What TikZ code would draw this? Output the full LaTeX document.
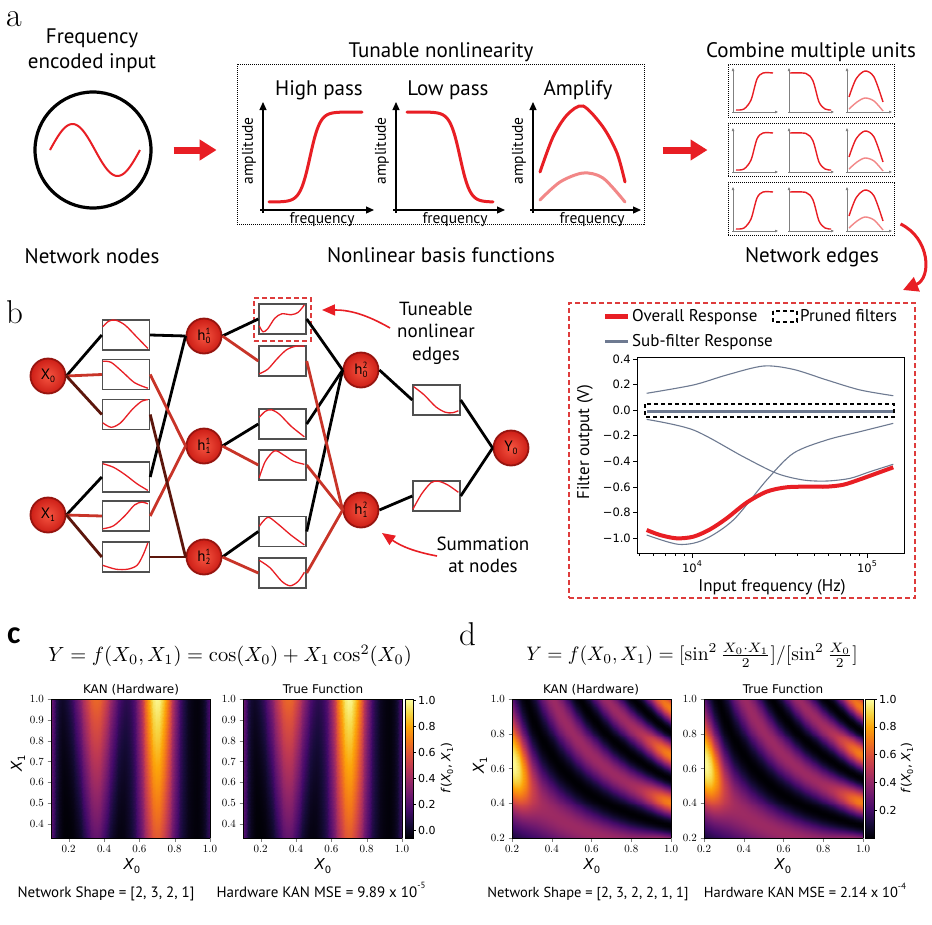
\documentclass[tikz,border=0pt]{standalone}
\usepackage{fontspec}
\usepackage{graphicx}
\usepackage{pgfplots}
\pgfplotsset{compat=1.18}
\usetikzlibrary{arrows.meta,calc}
\newfontfamily\pts{PT Sans}
\newfontfamily\djv{DejaVu Sans}
\newfontfamily\carl{Carlito}
\newcommand\fsz[2]{\fontsize{#1}{#2}\selectfont}
\definecolor{kred}{RGB}{232,30,36}
\definecolor{lred}{RGB}{242,135,135}
\definecolor{ered}{RGB}{200,52,40}
\definecolor{ebrown}{RGB}{92,22,12}
\definecolor{sgray}{RGB}{110,122,145}
\definecolor{bxgray}{RGB}{80,80,80}
\definecolor{dred}{RGB}{222,60,60}
\pgfplotsset{colormap={inferno}{rgb255=(0,0,4) rgb255=(22,11,57) rgb255=(66,10,104) rgb255=(106,23,110) rgb255=(147,38,103) rgb255=(188,55,84) rgb255=(221,81,58) rgb255=(243,120,25) rgb255=(252,165,10) rgb255=(246,215,70) rgb255=(252,255,164)}}
\pgfplotsset{hm/.style={anchor=south west, scale only axis, width=159pt, height=139pt, view={0}{90}, enlargelimits=false, axis on top, tick align=outside, xtick pos=left, ytick pos=left, major tick length=3.5pt, colormap name=inferno, tick label style={font=\djv\fsz{11}{11}}, axis line style={line width=0.7pt}, /pgf/number format/fixed, /pgf/number format/fixed zerofill, /pgf/number format/precision=1}}
\pgfdeclareverticalshading{infsh}{100bp}{rgb(0bp)=(0,0,0.016); rgb(25bp)=(0,0,0.016); rgb(30bp)=(0.086,0.043,0.224); rgb(35bp)=(0.259,0.039,0.408); rgb(40bp)=(0.416,0.090,0.431); rgb(45bp)=(0.576,0.149,0.404); rgb(50bp)=(0.737,0.216,0.329); rgb(55bp)=(0.867,0.318,0.227); rgb(60bp)=(0.953,0.471,0.098); rgb(65bp)=(0.988,0.647,0.039); rgb(70bp)=(0.965,0.843,0.275); rgb(75bp)=(0.988,1,0.643); rgb(100bp)=(0.988,1,0.643)}
\newcommand\Xl[1]{X\raisebox{-0.35ex}{\fsz{9}{9}#1}}
\newcommand\hl[2]{h\rlap{\raisebox{0.8ex}{\fsz{9}{9}#1}}\raisebox{-0.45ex}{\fsz{9}{9}#2}}
\newcommand\XX[1]{{\itshape X}\raisebox{-0.4ex}{\fsz{10}{10}#1}}
\newcommand\flab{{\djv\fsz{12.5}{12.5}\textit{f}(\textit{X}\raisebox{-0.4ex}{\fsz{8}{8}0}, \textit{X}\raisebox{-0.4ex}{\fsz{8}{8}1})}}
\newcommand\ebx[4]{%
  \node[ebox] (#1) at (#2,#3) {};
  \begin{scope}[shift={(#1.north west)}, x=47pt, y=-30pt]
    \clip (0,0) rectangle (1,1);
    \draw[ecurve] plot[smooth] coordinates {#4};
  \end{scope}}
\newcommand\minis[1]{%
  \foreach \mx in {733,789,847} {
    \draw[minax] (\mx,#1+49) -- (\mx,#1+4);
    \draw[minax] (\mx-1,#1+48) -- (\mx+45,#1+48);}
  \draw[mcurve] plot[smooth] coordinates {(736,#1+46) (744,#1+45) (751,#1+36) (757,#1+15) (763,#1+9) (773,#1+9)};
  \draw[mcurve] plot[smooth] coordinates {(790,#1+9) (806,#1+9.5) (813,#1+17) (819,#1+38) (825,#1+45) (831,#1+46)};
  \draw[mcurve] plot[smooth] coordinates {(849,#1+33) (856,#1+15) (865,#1+7) (874,#1+13) (883,#1+38)};
  \draw[mcurve, lred] plot[smooth] coordinates {(849,#1+45) (857,#1+38) (865,#1+34) (874,#1+37) (883,#1+47)};}
\begin{document}
\begin{tikzpicture}[x=1pt,y=-1pt,
  txt/.style={font=\pts\fsz{21}{21}, inner sep=0pt, anchor=base},
  small/.style={font=\pts\fsz{15.5}{15.5}, inner sep=0pt},
  lett/.style={anchor=base west, inner sep=0pt},
  dotbox/.style={draw, densely dotted, line width=1pt, inner sep=0pt},
  bigarrow/.style={kred, line width=7pt, -{Triangle[length=17pt,width=20pt]}},
  axarr/.style={line width=1.2pt, -{Triangle[length=8pt,width=7pt]}},
  rcurve/.style={kred, line width=3pt, line cap=round},
  minax/.style={gray, line width=0.6pt, -{Triangle[length=3pt,width=2.5pt]}},
  mcurve/.style={kred, line width=1.4pt},
  ebox/.style={draw=bxgray, line width=1.4pt, minimum width=47pt, minimum height=30pt, inner sep=0pt, fill=white},
  ecurve/.style={kred, line width=1.3pt},
  ball/.style={circle, minimum size=35pt, inner sep=0pt, draw={rgb,255:red,150;green,20;blue,15}, line width=1.8pt, inner color={rgb,255:red,245;green,85;blue,65}, outer color={rgb,255:red,205;green,30;blue,22}, font=\pts\fsz{15}{15}},
  lk/.style={black, line width=2.8pt},
  lr/.style={ered, line width=2.8pt},
  lb/.style={ebrown, line width=2.8pt},
  note/.style={font=\pts\fsz{19}{22.5}, inner sep=0pt, align=center},
  thinarrow/.style={kred, line width=1.6pt, -{Triangle[length=13pt,width=11pt]}},
  tlab/.style={font=\djv\fsz{11.5}{11.5}, inner sep=0pt},
  hmtitle/.style={font=\djv\fsz{12}{12}, inner sep=0pt, anchor=base},
  hmlab/.style={font=\djv\fsz{15}{15}, inner sep=0pt},
  btxt/.style={font=\pts\fsz{15}{15}, inner sep=0pt, anchor=base},
  rdash/.style={draw=dred, line width=1.3pt, dash pattern=on 5pt off 3pt},
  kdash/.style={draw=black, line width=1.2pt, dash pattern=on 4pt off 3pt}
]
\useasboundingbox (0,0) rectangle (932,924);
\fill[white] (0,0) rectangle (932,924);

% ================= panel a =================
\node[lett, font=\fsz{34}{34}] (la) at (6,26) {a};
\node[txt] (fin1) at (92,43) {Frequency};
\node[txt] (fin2) at (92,68) {encoded input};
\node[draw, circle, line width=3.2pt, minimum size=116pt, inner sep=0pt] (inp) at (93,150) {};
\draw[kred, line width=2pt] plot[domain=50:140, samples=60, smooth] (\x, {150-26*sin(4*(\x-50))});
\node[txt] (nn) at (92,263) {Network nodes};

\node[dotbox, minimum width=407pt, minimum height=160pt] (tun) at (440.5,144) {};
\node[txt] (tunt) at (441,57) {Tunable nonlinearity};
\node[txt] (nbf) at (441,262) {Nonlinear basis functions};
\draw[bigarrow] ([xshift=21pt]inp.east) -- ++(43,0);

\node[txt] (hp) at (319,95) {High pass};
\node[txt] (lp) at (448,95) {Low pass};
\node[txt] (am) at (578,95) {Amplify};
\foreach \ox/\xe in {263/374, 396/505, 533/641} {
  \draw[axarr] (\ox,213) -- (\ox,102);
  \draw[axarr] (\ox-3,210) -- (\xe,210);
  \node[small, rotate=90] at (\ox-14,151) {amplitude};
  \node[small, anchor=base] at (\ox+59,223) {frequency};
}
\draw[rcurve] plot[domain=269:362, samples=60] (\x, {202-90/(1+exp(max(-8,min(8,-(\x-310)/5))))});
\draw[rcurve] plot[domain=407:493, samples=60] (\x, {112+90/(1+exp(max(-8,min(8,-(\x-460)/5))))});
\draw[rcurve] plot[smooth] coordinates {(540,172) (553,137) (567,115) (583,106) (603,127) (617,153) (625,182)};
\draw[rcurve, lred] plot[smooth] coordinates {(540,200) (560,182) (583,173) (603,178) (625,202)};

\node[dotbox, minimum width=166pt, minimum height=53pt] (cb1) at (811,90.5) {};
\node[dotbox, minimum width=166pt, minimum height=53pt] (cb2) at (811,150) {};
\node[dotbox, minimum width=166pt, minimum height=53pt] (cb3) at (811,209) {};
\minis{64}
\minis{124}
\minis{183}
\node[txt] (cmu) at (811,57) {Combine multiple units};
\node[txt] (ned) at (812,262) {Network edges};
\draw[bigarrow] ([xshift=-65pt]cb2.west) -- ([xshift=-20pt]cb2.west);

% ================= panel b =================
\node[lett, font=\fsz{33}{33}] (lb) at (6,323) {b};

\node[ball] (X0) at (48,376) {\Xl{0}};
\node[ball] (X1) at (48,515) {\Xl{1}};
\node[ball] (h01) at (204,336) {\hl{1}{0}};
\node[ball] (h11) at (204,446) {\hl{1}{1}};
\node[ball] (h21) at (204,557) {\hl{1}{2}};
\node[ball] (h02) at (361,370) {\hl{2}{0}};
\node[ball] (h12) at (361,510) {\hl{2}{1}};
\node[ball] (Y0) at (511,448) {Y\raisebox{-0.35ex}{\fsz{9}{9}0}};

\ebx{b1}{126}{335}{(0.02,0.25) (0.15,0.06) (0.3,0.03) (0.5,0.2) (0.75,0.6) (0.98,0.97)}
\ebx{b2}{126}{374.5}{(0.02,0.08) (0.2,0.12) (0.45,0.45) (0.7,0.8) (0.98,0.98)}
\ebx{b3}{126}{414.5}{(0.02,0.8) (0.2,0.95) (0.4,0.8) (0.65,0.35) (0.85,0.08) (0.98,0.03)}
\ebx{b4}{126}{477}{(0.02,0.08) (0.25,0.2) (0.5,0.45) (0.75,0.75) (0.98,0.97)}
\ebx{b5}{126}{516}{(0.02,0.95) (0.25,0.85) (0.5,0.5) (0.7,0.15) (0.86,0.06) (0.98,0.12)}
\ebx{b6}{126}{557}{(0.02,0.8) (0.3,0.93) (0.55,0.93) (0.75,0.8) (0.88,0.45) (0.98,0.05)}
\ebx{c1}{282.5}{319}{(0.02,0.75) (0.1,0.95) (0.2,0.85) (0.35,0.5) (0.5,0.35) (0.7,0.38) (0.85,0.3) (0.98,0.05)}
\ebx{c2}{282.5}{361}{(0.02,0.95) (0.2,0.8) (0.4,0.45) (0.6,0.15) (0.8,0.03) (0.98,0.03)}
\ebx{c3}{282.5}{424}{(0.02,0.3) (0.15,0.1) (0.28,0.05) (0.45,0.2) (0.7,0.6) (0.98,0.95)}
\ebx{c4}{282.5}{465}{(0.02,0.95) (0.15,0.4) (0.35,0.05) (0.55,0.2) (0.75,0.4) (0.98,0.5)}
\ebx{c5}{282.5}{531.5}{(0.02,0.35) (0.2,0.05) (0.4,0.25) (0.7,0.65) (0.98,0.97)}
\ebx{c6}{282.5}{573}{(0.02,0.1) (0.25,0.35) (0.5,0.8) (0.68,0.95) (0.85,0.8) (0.98,0.5)}
\ebx{d1}{436.5}{400}{(0.03,0.08) (0.25,0.35) (0.5,0.75) (0.7,0.93) (0.85,0.95) (0.98,0.88)}
\ebx{d2}{436.5}{496}{(0.01,0.97) (0.2,0.45) (0.4,0.08) (0.55,0.03) (0.75,0.15) (0.98,0.4)}
\node[rdash, minimum width=57pt, minimum height=43pt, inner sep=0pt] (sel) at ($(c1)+(0,0.5)$) {};

\draw[lk] (X0.east) -- (b1.west);
\draw[lr] (X0.east) -- (b2.west);
\draw[lb] (X0.east) -- (b3.west);
\draw[lk] (X1.east) -- (b4.west);
\draw[lr] (X1.east) -- (b5.west);
\draw[lb] (X1.east) -- (b6.west);
\draw[lk] (b1.east) -- (h01.west);
\draw[lk] (b4.east) -- (h01.west);
\draw[lr] (b2.east) -- (h11.west);
\draw[lr] (b5.east) -- (h11.west);
\draw[lb] (b3.east) -- (h21.west);
\draw[lb] (b6.east) -- (h21.west);
\draw[lk] (h01.east) -- (c1.west);
\draw[lr] (h01.east) -- (c2.west);
\draw[lk] (h11.east) -- (c3.west);
\draw[lr] (h11.east) -- (c4.west);
\draw[lk] (h21.east) -- (c5.west);
\draw[lr] (h21.east) -- (c6.west);
\draw[lk] (c1.east) -- (h02.west);
\draw[lk] (c3.east) -- (h02.west);
\draw[lk] (c5.east) -- (h02.west);
\draw[lr] (c2.east) -- (h12.west);
\draw[lr] (c4.east) -- (h12.west);
\draw[lr] (c6.east) -- (h12.west);
\draw[lk] (h02.east) -- (d1.west);
\draw[lk] (h12.east) -- (d2.west);
\draw[lk] (d1.east) -- (Y0.west);
\draw[lk] (d2.east) -- (Y0.west);

\node[note] (tne) at (436,333) {Tuneable\\nonlinear\\edges};
\node[note] (san) at (483,555) {Summation\\at nodes};
\coordinate (tneT) at (322,310);
\coordinate (sanT) at (382,533);
\draw[thinarrow] (390,328) to[bend right=15] (tneT);
\draw[thinarrow] (437,556) to[bend left=12] (sanT);

% ---- filter response plot ----
\node[rdash, minimum width=346pt, minimum height=295pt, inner sep=0pt] (fbox) at (742,450.5) {};
\coordinate (arrS) at ($(cb3.south east)+(6,-12)$);
\coordinate (arrT) at (903,290);
\draw[kred, line width=3pt, -{Triangle[length=15pt,width=15pt]}] (arrS) .. controls (930,238) and (932,278) .. (arrT);

\draw[kred, line width=5pt] (605,316) -- (628,316);
\node[font=\pts\fsz{17}{17}, inner sep=0pt, anchor=base west] (lg1) at (632,321) {Overall Response};
\draw[kdash] (773,311) rectangle (797,322);
\node[font=\pts\fsz{17}{17}, inner sep=0pt, anchor=base west] (lg2) at (800,321) {Pruned filters};
\draw[sgray, line width=3pt] (605,341) -- (628,341);
\node[font=\pts\fsz{17}{17}, inner sep=0pt, anchor=base west] (lg3) at (632,346) {Sub-filter Response};

\draw[line width=1pt] (637,357) rectangle (904,553);
\foreach \v/\t in {0.4/0.4,0.2/0.2,0/0.0,-0.2/−0.2,-0.4/−0.4,-0.6/−0.6,-0.8/−0.8,-1.0/−1.0} {
  \draw[line width=0.8pt] (633,{359+(0.4-(\v))*127.9}) -- (637,{359+(0.4-(\v))*127.9});
  \node[tlab, anchor=east] at (631,{359+(0.4-(\v))*127.9}) {\t};
}
\foreach \mx in {639.3,653.2,664.9,675.0,683.9,744.7,775.5,797.4,814.3,828.2,839.9,850.0,858.9} {
  \draw[line width=0.6pt] (\mx,553) -- (\mx,556);
}
\draw[line width=0.8pt] (692,553) -- (692,558);
\draw[line width=0.8pt] (867,553) -- (867,558);
\node[tlab, anchor=base] at (692,572) {10\raisebox{0.9ex}{\fsz{8}{8}4}};
\node[tlab, anchor=base] at (867,572) {10\raisebox{0.9ex}{\fsz{8}{8}5}};
\node[font=\pts\fsz{17}{17}, inner sep=0pt, anchor=base] (xlb) at (772,591) {Input frequency (Hz)};
\node[font=\pts\fsz{17}{17}, inner sep=0pt, rotate=90] (ylb) at (585,442) {Filter output (V)};
\draw[kdash] (645,404) rectangle (894,417);
\begin{scope}[shift={(692,410.16)}, x=175pt, y=127.9pt]
  \draw[sgray, line width=1.1pt] plot[smooth] coordinates {(-0.259,0.132) (0.008,0.197) (0.198,0.275) (0.408,0.345) (0.579,0.319) (0.770,0.236) (0.960,0.158) (1.150,0.113)};
  \draw[sgray, line width=2.5pt] (-0.259,-0.01) -- (1.150,-0.01);
  \draw[sgray, line width=1.1pt] plot[smooth] coordinates {(-0.259,-0.072) (0.008,-0.155) (0.293,-0.364) (0.484,-0.494) (0.636,-0.546) (0.770,-0.554) (0.903,-0.533) (1.017,-0.481) (1.150,-0.423)};
  \draw[sgray, line width=1.1pt] plot[smooth] coordinates {(-0.259,-0.976) (-0.078,-1.049) (0.065,-1.015) (0.236,-0.859) (0.427,-0.546) (0.579,-0.337) (0.770,-0.233) (0.960,-0.168) (1.150,-0.103)};
  \draw[kred, line width=4pt] plot[smooth] coordinates {(-0.259,-0.937) (-0.183,-0.976) (-0.088,-1.002) (0.008,-0.989) (0.103,-0.932) (0.198,-0.846) (0.312,-0.723) (0.427,-0.637) (0.541,-0.603) (0.674,-0.598) (0.770,-0.598) (0.865,-0.583) (0.960,-0.541) (1.055,-0.494) (1.150,-0.447)};
\end{scope}

% ================= panel c =================
\node[lett, font=\carl\bfseries\fsz{32}{32}] (lc) at (7,643) {c};
\node[inner sep=0pt] (eqc) at (230,656) {\scalebox{2.05}{$Y = f(X_0, X_1) = \cos(X_0) + X_1 \cos^2(X_0)$}};
\begin{axis}[hm, at={(51pt,-838pt)}, xmin=0.1, xmax=1, ymin=0.3333, ymax=1, xtick={0.2,0.4,0.6,0.8,1.0}, ytick={0.4,0.5,0.6,0.7,0.8,0.9,1.0}, point meta min=-0.06, point meta max=1,
  declare function={sc(\t)=(\t-0.3333)*1.5; gs(\t,\w)=exp(-(\t/\w)*(\t/\w));}]
\addplot3[surf, shader=interp, domain=0.1:1, y domain=0.3333:1, samples=60, samples y=14]
 {(0.36+0.06*sc(y))*gs(x-0.075,0.05) + (0.3+0.4*sc(y))*gs(x-0.355,0.075+0.045*sc(y)) + (0.66+0.38*sc(y))*gs(x-0.70,0.105) + (0.24+0.08*sc(y))*gs(x-1.025,0.05) - 0.06};
\end{axis}
\begin{axis}[hm, at={(243pt,-838pt)}, xmin=0.1, xmax=1, ymin=0.3333, ymax=1, xtick={0.2,0.4,0.6,0.8,1.0}, ytick={0.4,0.5,0.6,0.7,0.8,0.9,1.0}, point meta min=-0.06, point meta max=1,
  declare function={sc(\t)=(\t-0.3333)*1.5; gs(\t,\w)=exp(-(\t/\w)*(\t/\w));}]
\addplot3[surf, shader=interp, domain=0.1:1, y domain=0.3333:1, samples=60, samples y=14]
 {(0.36+0.06*sc(y))*gs(x-0.075,0.05) + (0.3+0.4*sc(y))*gs(x-0.355,0.075+0.045*sc(y)) + (0.66+0.38*sc(y))*gs(x-0.70,0.105) + (0.24+0.08*sc(y))*gs(x-1.025,0.05) - 0.06};
\end{axis}
\node[hmtitle] (tc1) at (131,693) {KAN (Hardware)};
\node[hmtitle] (tc2) at (323,693) {True Function};
\node[hmlab] (xc1) at (132,866) {\XX{0}};
\node[hmlab] (xc2) at (323,866) {\XX{0}};
\node[hmlab, rotate=90] (yc1) at (18,763) {\XX{1}};
\shade[shading=infsh] (405,699) rectangle (413,838);
\draw[line width=0.6pt] (405,699) rectangle (413,838);
\foreach \v/\t in {0/0.0,0.2/0.2,0.4/0.4,0.6/0.6,0.8/0.8,1/1.0} {
  \draw[line width=0.6pt] (413,{830-130*\v}) -- (416,{830-130*\v});
  \node[font=\djv\fsz{11}{11}, inner sep=0pt, anchor=west] at (418,{830-130*\v}) {\t};
}
\node[rotate=90, inner sep=0pt] (fc) at (447,768) {\flab};
\node[btxt] (nsc) at (106,897) {Network Shape = [2, 3, 2, 1]};
\node[btxt] (msc) at (321,897) {Hardware KAN MSE = 9.89 x 10\raisebox{1.1ex}{\fsz{9}{9}-5}};

% ================= panel d =================
\node[lett, font=\fsz{33}{33}] (ld) at (459,645) {d};
\node[inner sep=0pt] (eqd) at (692,655) {\scalebox{1.95}{$Y = f(X_0, X_1) = [\sin^2\frac{X_0\cdot X_1}{2}]/[\sin^2\frac{X_0}{2}]$}};
\begin{axis}[hm, at={(512pt,-838pt)}, xmin=0.2, xmax=1, ymin=0.2, ymax=1, xtick={0.2,0.4,0.6,0.8,1.0}, ytick={0.2,0.4,0.6,0.8,1.0}, point meta min=0, point meta max=1,
  declare function={gs(\t,\w)=exp(-(\t/\w)*(\t/\w)); sn(\a,\b)=sin(180*\a*\b/0.27);}]
\addplot3[surf, shader=interp, domain=0.2:1, y domain=0.2:1, samples=48, samples y=48]
 {min(1,(0.42+0.58*gs(x-0.2,0.09)*gs(y-0.6,0.3)+0.3*gs(x-1,0.12))*sn(x,y)*sn(x,y))};
\end{axis}
\begin{axis}[hm, at={(704pt,-838pt)}, xmin=0.2, xmax=1, ymin=0.2, ymax=1, xtick={0.2,0.4,0.6,0.8,1.0}, ytick={0.2,0.4,0.6,0.8,1.0}, point meta min=0, point meta max=1,
  declare function={gs(\t,\w)=exp(-(\t/\w)*(\t/\w)); sn(\a,\b)=sin(180*\a*\b/0.27);}]
\addplot3[surf, shader=interp, domain=0.2:1, y domain=0.2:1, samples=48, samples y=48]
 {min(1,(0.42+0.58*gs(x-0.2,0.09)*gs(y-0.6,0.3)+0.3*gs(x-1,0.12))*sn(x,y)*sn(x,y))};
\end{axis}
\node[hmtitle] (td1) at (591,693) {KAN (Hardware)};
\node[hmtitle] (td2) at (783,693) {True Function};
\node[hmlab] (xd1) at (592,866) {\XX{0}};
\node[hmlab] (xd2) at (783,866) {\XX{0}};
\node[hmlab, rotate=90] (yd1) at (480,765) {\XX{1}};
\shade[shading=infsh] (865,699) rectangle (874,838);
\draw[line width=0.6pt] (865,699) rectangle (874,838);
\foreach \v/\t in {0.2/0.2,0.4/0.4,0.6/0.6,0.8/0.8,1/1.0} {
  \draw[line width=0.6pt] (874,{838-139*\v}) -- (877,{838-139*\v});
  \node[font=\djv\fsz{11}{11}, inner sep=0pt, anchor=west] at (879,{838-139*\v}) {\t};
}
\node[rotate=90, inner sep=0pt] (fd) at (907,768) {\flab};
\node[btxt, font=\pts\fsz{14.5}{14.5}] (nsd) at (588,897) {Network Shape = [2, 3, 2, 2, 1, 1]};
\node[btxt, font=\pts\fsz{14.5}{14.5}] (msd) at (805,897) {Hardware KAN MSE = 2.14 x 10\raisebox{1.1ex}{\fsz{9}{9}-4}};
\end{tikzpicture}
\end{document}
